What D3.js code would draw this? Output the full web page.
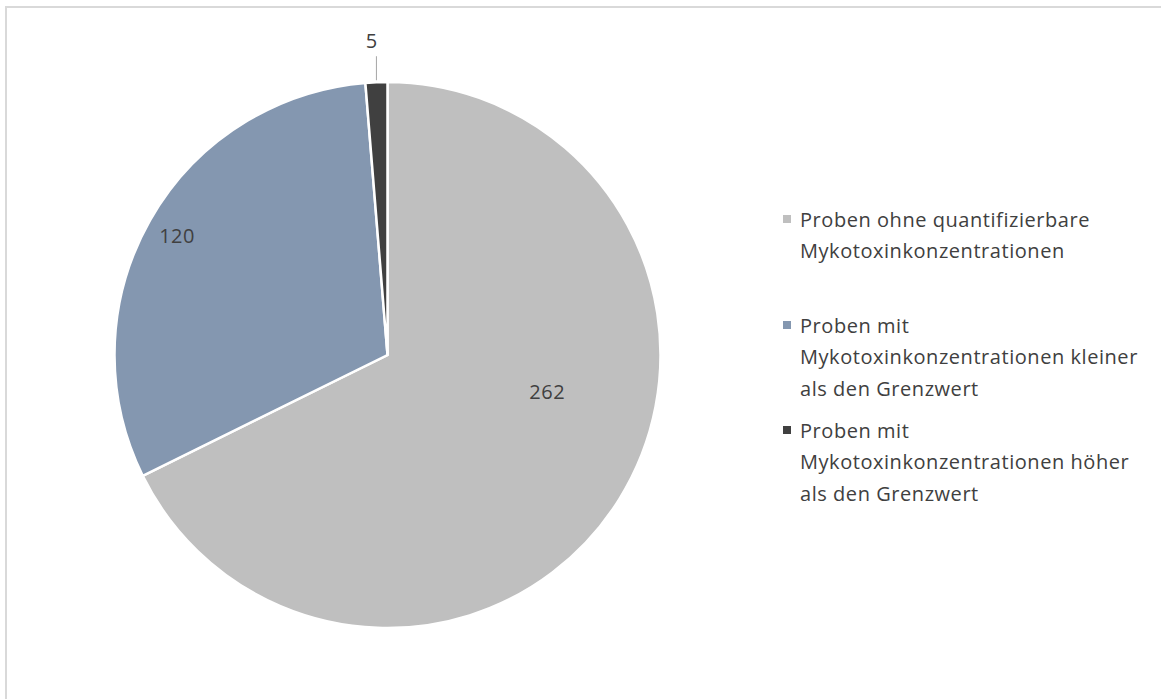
<!DOCTYPE html>
<html>
<head>
<meta charset="utf-8">
<script src="https://cdn.jsdelivr.net/npm/d3@7/dist/d3.min.js"></script>
<style>
  html, body { margin: 0; padding: 0; background: #fff; }
  svg { display: block; font-family: "Open Sans", Lato, sans-serif; }
</style>
</head>
<body>
<svg id="chart" width="1161" height="699"></svg>
<script>
// Pie: Mykotoxin-Proben nach Konzentration
const categories = [
  "Proben ohne quantifizierbare Mykotoxinkonzentrationen",
  "Proben mit Mykotoxinkonzentrationen kleiner als den Grenzwert",
  "Proben mit Mykotoxinkonzentrationen höher als den Grenzwert"
];
const legendLines = [
  ["Proben ohne quantifizierbare", "Mykotoxinkonzentrationen"],
  ["Proben mit", "Mykotoxinkonzentrationen kleiner", "als den Grenzwert"],
  ["Proben mit", "Mykotoxinkonzentrationen höher", "als den Grenzwert"]
];
const values = [262, 120, 5];
const colours = ["#bfbfbf", "#8497b0", "#404040"];

const svg = d3.select("#chart");
const W = 1161, H = 699;

// Chart frame (runs off the right/bottom edge like the source screenshot)
svg.append("rect")
  .attr("x", 6).attr("y", 7)
  .attr("width", W + 10).attr("height", H + 10)
  .attr("fill", "#fff")
  .attr("stroke", "#d9d9d9")
  .attr("stroke-width", 2);

const cx = 387.5, cy = 355, r = 273;
const data = values.map((v, i) => ({ value: v, name: categories[i], colour: colours[i] }));

const pie = d3.pie().value((d) => d.value).sort(null);
const arcs = pie(data);
const arc = d3.arc().innerRadius(0).outerRadius(r);

const g = svg.append("g").attr("transform", `translate(${cx},${cy})`);

g.selectAll("path")
  .data(arcs)
  .join("path")
  .attr("d", arc)
  .attr("fill", (d) => d.data.colour)
  .attr("stroke", "#fff")
  .attr("stroke-width", 2.5)
  .attr("stroke-linejoin", "miter");

// Data labels: big slices inside (radius fraction + angle nudge), small one outside with a leader
const labelRadius = [0.6, 0.886];
const labelNudge = [-19, 0]; // degrees, Excel's best-fit placement
const labelColour = "#404040";
arcs.forEach((d, i) => {
  const mid = (d.startAngle + d.endAngle) / 2;
  if (i < 2) {
    const a = mid + labelNudge[i] * Math.PI / 180;
    const rr = r * labelRadius[i];
    g.append("text")
      .attr("x", Math.sin(a) * rr)
      .attr("y", -Math.cos(a) * rr)
      .attr("text-anchor", "middle")
      .attr("dominant-baseline", "central")
      .attr("font-size", 20)
      .attr("letter-spacing", 0.5)
      .attr("fill", labelColour)
      .text(d.value);
  } else {
    const px = Math.sin(mid) * r, py = -Math.cos(mid) * r;
    g.append("line")
      .attr("x1", px).attr("y1", py - 2)
      .attr("x2", px).attr("y2", py - 26)
      .attr("stroke", "#a6a6a6")
      .attr("stroke-width", 1);
    g.append("text")
      .attr("x", px - 5)
      .attr("y", py - 42)
      .attr("text-anchor", "middle")
      .attr("dominant-baseline", "central")
      .attr("font-size", 20)
      .attr("fill", labelColour)
      .text(d.value);
  }
});

// Legend
const legendTop = [219, 325, 430];
const lineH = 31.5;
const legend = svg.append("g");
legendLines.forEach((lines, i) => {
  legend.append("rect")
    .attr("x", 783).attr("y", legendTop[i] - 4)
    .attr("width", 8).attr("height", 8)
    .attr("fill", colours[i]);
  lines.forEach((t, j) => {
    legend.append("text")
      .attr("x", 800)
      .attr("y", legendTop[i] + j * lineH)
      .attr("dominant-baseline", "central")
      .attr("font-size", 20)
      .attr("letter-spacing", 0.55)
      .attr("fill", labelColour)
      .text(t);
  });
});
</script>
</body>
</html>
